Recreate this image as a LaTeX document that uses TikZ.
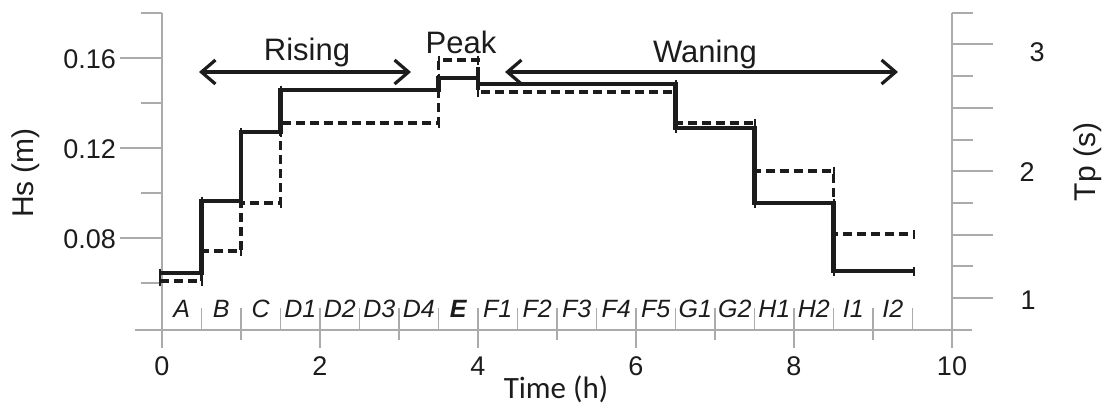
\documentclass[tikz,border=0pt]{standalone}
\usepackage{fontspec}
\setmainfont{Liberation Sans}
\newfontfamily\califont{Carlito}
\usetikzlibrary{arrows.meta}
\definecolor{axisgray}{HTML}{ABABAB}
\definecolor{ink}{HTML}{1C1C1C}
\begin{document}
\begin{tikzpicture}[x=1pt,y=-1pt,
  axisline/.style={draw=axisgray, line width=1.3pt},
  hsline/.style={draw=ink, line width=4.2pt, line join=miter},
  tpline/.style={draw=ink, line width=3.2pt, dash pattern=on 9pt off 5pt},
  stepmark/.style={draw=ink, line width=2pt},
  phasearrow/.style={draw=ink, line width=3.2pt, {Straight Barb[length=14pt,width=24pt]}-{Straight Barb[length=14pt,width=24pt]}},
  ticklbl/.style={font=\fontsize{27}{29}\selectfont, text=ink, inner sep=0pt},
  seglbl/.style={font=\fontsize{25}{27}\selectfont\itshape, text=ink, inner sep=0pt},
  phaselbl/.style={font=\fontsize{31}{33}\selectfont, text=ink, inner sep=0pt, anchor=base},
  axislbl/.style={font=\fontsize{30}{32}\selectfont, text=ink, inner sep=0pt, anchor=base, rotate=90}
]
\useasboundingbox (0,0) rectangle (1112,405);
% ---------- axes ----------
\draw[axisline] (162,13) -- (162,348);
\draw[axisline] (952,13) -- (952,348);
\draw[axisline] (135,330) -- (972,330);
% left ticks
\foreach \yy in {58,148,238} \draw[axisline] (120,\yy) -- (162,\yy);
\foreach \yy in {13,103,193,283} \draw[axisline] (141,\yy) -- (162,\yy);
% right ticks
\foreach \yy in {44,108,171,235,298} \draw[axisline] (952,\yy) -- (993,\yy);
\foreach \yy in {13,76,140,203,266} \draw[axisline] (952,\yy) -- (973,\yy);
% bottom ticks
\foreach \t in {0.5,1.5,...,9.5} \draw[axisline] ({162+79*\t},308) -- ({162+79*\t},330);
\foreach \t in {1,3,5,7,9} \draw[axisline] ({162+79*\t},308) -- ({162+79*\t},340);
\foreach \t in {2,4,6,8} \draw[axisline] ({162+79*\t},308) -- ({162+79*\t},348);
% ---------- tick labels ----------
\node[ticklbl, anchor=east] (l016) at (116,59) {0.16};
\node[ticklbl, anchor=east] (l012) at (116,149) {0.12};
\node[ticklbl, anchor=east] (l008) at (116,239) {0.08};
\node[ticklbl] (r3) at (1037,52) {3};
\node[ticklbl] (r2) at (1027,172) {2};
\node[ticklbl] (r1) at (1028,300) {1};
\foreach \t/\lab in {0/0,2/2,4/4,6/6,8/8,10/10}
  \node[ticklbl] (b\t) at ({162+79*\t},366) {\lab};
% segment letters
\foreach \i/\lab in {0/A,1/B,2/C,3/D1,4/D2,5/D3,6/D4,8/F1,9/F2,10/F3,11/F4,12/F5,13/G1,14/G2,15/H1,16/H2,17/I1,18/I2}
  \node[seglbl] (s\i) at ({162+39.5*(\i+0.5)},309) {\lab};
\node[seglbl, font=\fontsize{25}{27}\selectfont\itshape\bfseries] (s7) at ({162+39.5*7.5},309) {E};
% axis titles
\node[axislbl] (hs) at (33,173) {Hs (m)};
\node[axislbl] (tp) at (1095,162) {Tp (s)};
\node[font=\califont\fontsize{31}{33}\selectfont, text=ink, inner sep=0pt, anchor=base] (time) at (556,398) {Time (h)};
% ---------- data ----------
\draw[tpline] (160,281) -- (201.5,281) -- (201.5,251) -- (241,251) -- (241,203) -- (280.5,203)
  -- (280.5,123) -- (438.5,123) -- (438.5,60) -- (478,60) -- (478,92) -- (675.5,92)
  -- (675.5,123) -- (754.5,123) -- (754.5,171) -- (833.5,171) -- (833.5,234) -- (914,234);
\draw[hsline] (160,273) -- (201.5,273) -- (201.5,201) -- (241,201) -- (241,132) -- (280.5,132)
  -- (280.5,90) -- (438.5,90) -- (438.5,78) -- (478,78) -- (478,84) -- (675.5,84)
  -- (675.5,128) -- (754.5,128) -- (754.5,203) -- (833.5,203) -- (833.5,271) -- (914,271);
% corner marks
\foreach \xx/\yy in {160/273,201.5/273,201.5/201,241/201,241/132,280.5/132,280.5/90,438.5/90,438.5/78,478/78,478/84,675.5/84,675.5/128,754.5/128,754.5/203,833.5/203,833.5/271,914/271,
  160/281,201.5/281,201.5/251,241/251,241/203,280.5/203,280.5/123,438.5/123,438.5/60,478/60,478/92,675.5/92,675.5/123,754.5/123,754.5/171,833.5/171,833.5/234,914/234}
  \draw[stepmark] (\xx,\yy-4.5) -- (\xx,\yy+4.5);
% ---------- phase arrows ----------
\coordinate (rise0) at (199,72);
\coordinate (rise1) at (411,72);
\coordinate (wane0) at (505,72);
\coordinate (wane1) at (898,72);
\draw[phasearrow] (rise0) -- (rise1);
\draw[phasearrow] (wane0) -- (wane1);
\node[phaselbl] (rising) at (307,60) {Rising};
\node[phaselbl] (peak) at (461,53) {Peak};
\node[phaselbl] (waning) at (705,62) {Waning};
\end{tikzpicture}
\end{document}
